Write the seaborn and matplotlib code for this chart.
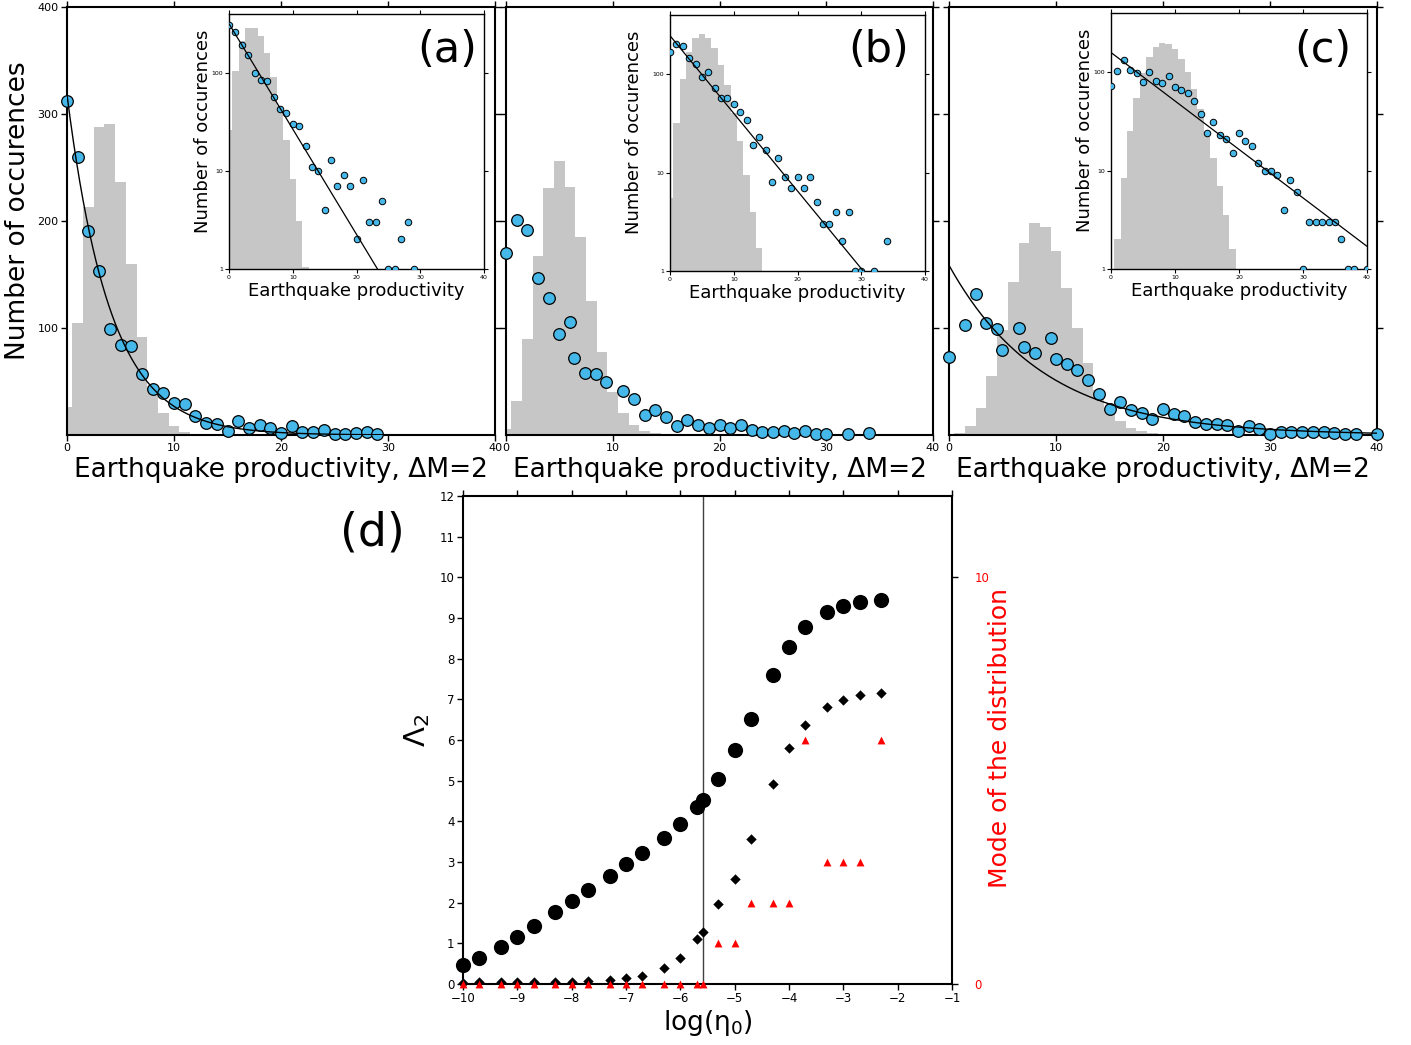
import numpy as np
import pandas as pd
import matplotlib
matplotlib.use("Agg")
import matplotlib.pyplot as plt
from matplotlib.ticker import NullLocator, FixedLocator, FixedFormatter
import seaborn as sns

# ---------------- data ----------------
# (a) productivity distribution, dM = 2
prod_a = [0, 1, 2, 3, 4, 5, 6, 7, 8, 9, 10, 11, 12, 13, 14, 15, 16, 17, 18, 19,
          20, 21, 22, 23, 24, 25, 26, 27, 28, 29]
occ_a = [312, 260, 191, 153, 99, 84, 83, 57, 43, 39, 30, 29, 18, 11, 10, 4, 13, 7, 9, 7,
         2, 8, 3, 3, 5, 1, 1, 2, 3, 1]
hist_a_first = 0
hist_a = [26, 105, 213, 288, 291, 236, 160, 92, 46, 20.7, 8.3, 3.1, 1.05]
fit_a = (318.0, 0.2474)

# (b)
prod_b = [0, 1, 2, 3, 4, 5, 6, 7, 8, 9, 10, 11, 12, 13, 14, 15, 16, 17, 18, 19,
          20, 21, 22, 23, 24, 25, 26, 27, 28, 29, 30, 32, 34]
prod_b_main = [0, 1, 2, 3, 4, 5, 6, 6.4, 7.4, 8.4, 9.4, 11, 12, 13, 14, 15, 16, 17, 18, 19,
               20, 21, 22, 23, 24, 25, 26, 27, 28, 29, 30, 32, 34]
occ_b = [170, 201, 192, 147, 128, 94, 106, 72, 58, 57, 50, 41, 34, 19, 23, 17, 8, 14, 9, 7,
         9, 7, 9, 5, 3, 3, 4, 2, 4, 1, 1, 1, 2]
hist_b_first = 0
hist_b = [5.5, 32, 90, 167, 231, 256, 232, 185, 125, 78, 40, 21, 9.5, 4, 1.7]
fit_b = (246.5, 0.1817)

# (c)
prod_c = [0, 1, 2, 3, 4, 5, 6, 7, 8, 9, 10, 11, 12, 13, 14, 15, 16, 17, 18, 19,
          20, 21, 22, 23, 24, 25, 26, 27, 28, 29, 30, 31, 32, 33, 34, 35, 36, 37, 38, 40]
prod_c_main = [0, 1.5, 2.5, 3.5, 4.5, 5, 6.5, 7, 8, 9.5, 10, 11, 12, 13, 14, 15, 16, 17, 18, 19,
               20, 21, 22, 23, 24, 25, 26, 27, 28, 29, 30, 31, 32, 33, 34, 35, 36, 37, 38, 40]
occ_c = [73, 103, 132, 105, 99, 79, 100, 82, 77, 91, 71, 66, 61, 51, 38, 24, 31, 23, 21, 15,
         24, 20, 18, 12, 10, 10, 9, 4, 8, 6, 1, 3, 3, 3, 3, 3, 2, 1, 1, 1]
hist_c_first = 1
hist_c = [2, 8.4, 25, 55, 98, 143, 179, 198, 194, 172, 137, 100, 67, 42.5, 24, 13.5, 7, 3.5, 1.6]
fit_c = (158.6, 0.1134)

# (d) Lambda_2 and mode versus eta_0
eta0 = [1e-10, 2e-10, 5e-10, 1e-9, 2e-9, 5e-9, 1e-8, 2e-8, 5e-8, 1e-7, 2e-7, 5e-7,
        1e-6, 2e-6, 2.6e-6, 5e-6, 1e-5, 2e-5, 5e-5, 1e-4, 2e-4, 5e-4, 1e-3, 2e-3, 5e-3]
lambda2_big = [0.47, 0.65, 0.92, 1.15, 1.43, 1.77, 2.03, 2.32, 2.66, 2.95, 3.22, 3.60,
               3.94, 4.36, 4.53, 5.03, 5.75, 6.52, 7.60, 8.29, 8.77, 9.15, 9.30, 9.40, 9.45]
lambda2_small = [0.02, 0.04, 0.04, 0.04, 0.04, 0.06, 0.06, 0.07, 0.10, 0.14, 0.20, 0.39,
                 0.65, 1.10, 1.29, 1.96, 2.57, 3.57, 4.93, 5.80, 6.37, 6.81, 6.99, 7.10, 7.15]
mode_dist = [0, 0, 0, 0, 0, 0, 0, 0, 0, 0, 0, 0, 0, 0, 0,
             1, 1, 2, 2, 2, 6, 3, 3, 3, 6]
eta0_critical = 2.6e-6

panel_tags = ["(a)", "(b)", "(c)"]

# ---------------- style ----------------
sns.set_theme(style="ticks")
plt.rcParams["font.family"] = ["DejaVu Sans"]
plt.rcParams["mathtext.fontset"] = "dejavusans"
for key in ["text.color", "axes.labelcolor", "xtick.color", "ytick.color",
            "axes.edgecolor"]:
    plt.rcParams[key] = "black"

BLUE = "#45b7e8"
GREY = "#c6c6c6"

fig = plt.figure(figsize=(14.11, 10.45), dpi=100)
W, H = 1411.0, 1045.0


def px_axes(x0, y0, x1, y1):
    return fig.add_axes([x0 / W, 1 - y1 / H, (x1 - x0) / W, (y1 - y0) / H])


def draw_hist(ax, first, counts):
    centers = [float(first + k) for k in range(len(counts))]
    edges = [first - 0.5 + k for k in range(len(counts) + 1)]
    df = pd.DataFrame({"center": centers, "count": [float(c) for c in counts]})
    sns.histplot(data=df, x="center", weights="count", bins=edges, ax=ax,
                 color=GREY, alpha=1, linewidth=0, zorder=1)


def frame(ax, lw):
    for s in ax.spines.values():
        s.set_visible(True)
        s.set_linewidth(lw)
        s.set_color("black")


main_boxes = [(67, 7, 495, 435), (506, 7, 933, 435), (949, 7, 1377, 435)]
inset_boxes = [(229, 14, 484, 269), (670, 15, 925, 271), (1111, 13, 1367, 269)]
inset_ylab_x = [-0.067, -0.106, -0.066]
tag_pos = [(447, 50), (879, 50), (1323, 50)]

panels = [
    (prod_a, prod_a, occ_a, hist_a_first, hist_a, fit_a, True),
    (prod_b, prod_b_main, occ_b, hist_b_first, hist_b, fit_b, False),
    (prod_c, prod_c_main, occ_c, hist_c_first, hist_c, fit_c, True),
]

for i, (px, px_main, occ, hfirst, hcounts, fit, fit_in_main) in enumerate(panels):
    xf = np.linspace(0, 40, 400)
    yf = fit[0] * np.exp(-fit[1] * xf)

    # main linear panel
    ax = px_axes(*main_boxes[i])
    draw_hist(ax, hfirst, hcounts)
    sns.scatterplot(x=px_main, y=occ, ax=ax, color=BLUE, edgecolor="black",
                    s=70, linewidth=0.9, zorder=3, clip_on=False)
    if fit_in_main:
        sns.lineplot(x=xf, y=yf, ax=ax, color="black", linewidth=1.0, zorder=4,
                     estimator=None)
    ax.set_xlim(0, 40)
    ax.set_ylim(0, 400)
    ax.set_xticks([0, 10, 20, 30, 40])
    ax.set_yticks([100, 200, 300, 400])
    ax.tick_params(direction="out", length=4, width=1, labelsize=8, pad=2,
                   top=True, right=True, labeltop=False, labelright=False,
                   colors="black")
    frame(ax, 1.5)
    ax.set_xlabel("Earthquake productivity, \u0394M=2", fontsize=19)
    ax.xaxis.set_label_coords(0.5, -0.052)
    if i == 0:
        ax.set_ylabel("Number of occurences", fontsize=19)
        ax.yaxis.set_label_coords(-0.084, 0.523)
    else:
        ax.set_ylabel("")
        ax.tick_params(labelleft=False)

    # log inset
    ins = px_axes(*inset_boxes[i])
    ins.set_facecolor("white")
    draw_hist(ins, hfirst, hcounts)
    sns.scatterplot(x=px, y=occ, ax=ins, color=BLUE, edgecolor="black",
                    s=22, linewidth=0.7, zorder=3)
    sns.lineplot(x=xf, y=yf, ax=ins, color="black", linewidth=0.9, zorder=4,
                 estimator=None)
    ins.set_yscale("log")
    ins.set_xlim(0, 40)
    ins.set_ylim(1, 400)
    ins.set_xticks([0, 10, 20, 30, 40])
    ins.yaxis.set_major_locator(FixedLocator([1, 10, 100]))
    ins.yaxis.set_major_formatter(FixedFormatter(["1", "10", "100"]))
    ins.yaxis.set_minor_locator(NullLocator())
    ins.tick_params(direction="out", length=3, width=0.8, labelsize=4.5, pad=1,
                    top=True, right=True, labeltop=False, labelright=False,
                    colors="black")
    frame(ins, 1.0)
    ins.set_xlabel("Earthquake productivity", fontsize=13)
    ins.xaxis.set_label_coords(0.5, -0.051)
    ins.set_ylabel("Number of occurences", fontsize=13)
    ins.yaxis.set_label_coords(inset_ylab_x[i], 0.54)

    fig.text(tag_pos[i][0] / W, 1 - tag_pos[i][1] / H, panel_tags[i], fontsize=31,
             ha="center", va="center", color="black")

# ---------------- panel (d) ----------------
log_eta0 = np.log10(eta0)
axd = px_axes(463, 496, 952, 984)
axd.axvline(np.log10(eta0_critical), color="#404040", linewidth=1.0, zorder=1)
sns.scatterplot(x=log_eta0, y=lambda2_big, ax=axd, color="black", marker="o",
                s=120, linewidth=0, zorder=3, clip_on=False)
sns.scatterplot(x=log_eta0, y=lambda2_small, ax=axd, color="black", marker="D",
                s=28, linewidth=0, zorder=3, clip_on=False)
axd.set_xlim(-10, -1)
axd.set_ylim(0, 12)
axd.set_xticks(range(-10, 0))
axd.set_yticks(range(0, 13))
axd.tick_params(direction="out", length=4, width=1, labelsize=8.5, pad=2,
                top=True, right=True, labeltop=False, labelright=False,
                colors="black")
frame(axd, 1.5)
axd.set_xlabel("log(\u03b7$_0$)", fontsize=19)
axd.xaxis.set_label_coords(0.5, -0.049)
axd.set_ylabel(r"$\Lambda_2$", fontsize=21)
axd.yaxis.set_label_coords(-0.063, 0.52)

axm = axd.twinx()
sns.scatterplot(x=log_eta0, y=mode_dist, ax=axm, color="red", marker="^",
                s=32, linewidth=0, zorder=4, clip_on=False)
axm.set_ylim(0, 12)
axm.set_yticks([0, 10])
axm.tick_params(axis="y", direction="out", length=4, width=1, labelsize=8.5,
                pad=12, colors="black")
axm.tick_params(axis="y", labelcolor="red")
for s in axm.spines.values():
    s.set_visible(False)
axm.set_ylabel("Mode of the distribution", fontsize=18, color="red")
axm.yaxis.set_label_coords(1.074, 0.504)

fig.text(372 / W, 1 - 533 / H, "(d)", fontsize=33, ha="center", va="center",
         color="black")

fig.savefig("out.png", dpi=100)
